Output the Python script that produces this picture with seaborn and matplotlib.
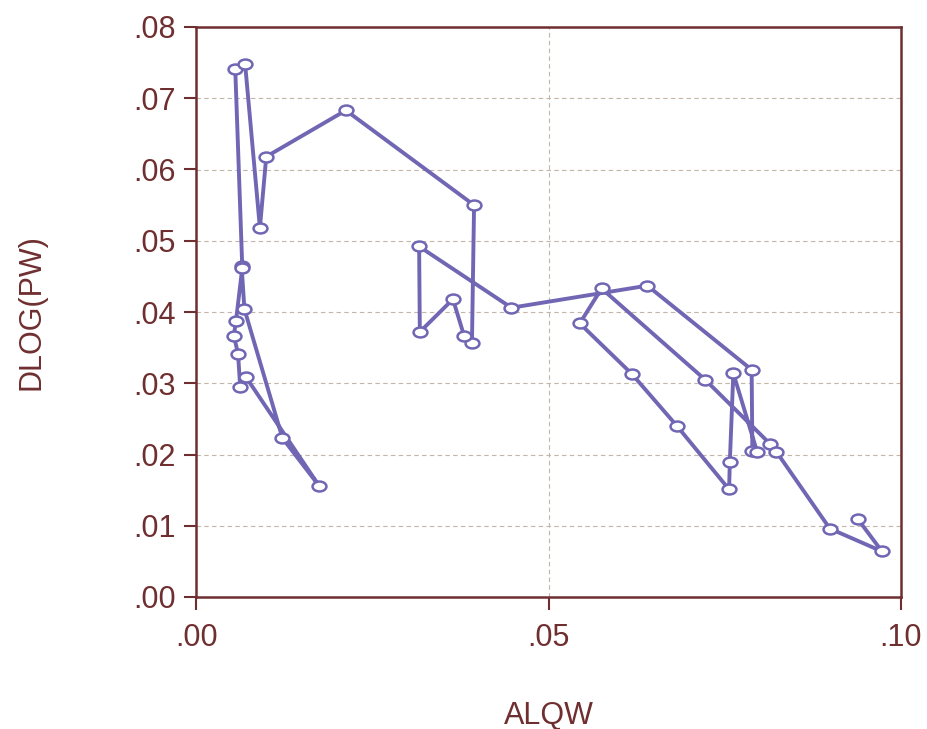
import matplotlib
matplotlib.use("Agg")
import matplotlib.pyplot as plt
import matplotlib.path as mpath
from matplotlib import font_manager
from matplotlib.ticker import FuncFormatter, MultipleLocator
import seaborn as sns
import pandas as pd

# ---------------------------------------------------------------------------
# Data (in path order)
# ---------------------------------------------------------------------------
alqw = [
    0.0064, 0.0068, 0.0122, 0.0174, 0.0070, 0.0062, 0.0059, 0.0053, 0.0056,
    0.0065, 0.0055, 0.0069, 0.0090, 0.0099, 0.0212, 0.0394, 0.0391, 0.0380,
    0.0364, 0.0317, 0.0316, 0.0447, 0.0640, 0.0788, 0.0789, 0.0796, 0.0762,
    0.0757, 0.0756, 0.0682, 0.0618, 0.0544, 0.0575, 0.0722, 0.0814, 0.0823,
    0.0899, 0.0973, 0.0939,
]
dlog_pw = [
    0.0465, 0.0404, 0.0223, 0.0156, 0.0309, 0.0295, 0.0341, 0.0367, 0.0387,
    0.0462, 0.0741, 0.0748, 0.0518, 0.0618, 0.0683, 0.0550, 0.0357, 0.0366,
    0.0418, 0.0372, 0.0492, 0.0406, 0.0437, 0.0319, 0.0205, 0.0203, 0.0314,
    0.0189, 0.0151, 0.0240, 0.0313, 0.0384, 0.0433, 0.0305, 0.0215, 0.0204,
    0.0096, 0.0064, 0.0109,
]

df = pd.DataFrame({"ALQW": alqw, "DLOG(PW)": dlog_pw})

LINE = "#7066b4"
MAROON = "#6f2f30"
GRID = "#c4b5a6"

sns.set_style("white")
plt.rcParams["font.family"] = ["Liberation Sans", "DejaVu Sans"]

# narrow face for the rotated label, if it is there
names = {f.name for f in font_manager.fontManager.ttflist}
narrow = "Liberation Sans Narrow" if "Liberation Sans Narrow" in names else "Liberation Sans"

fig = plt.figure(figsize=(9.28, 7.29), dpi=100)
ax = fig.add_axes([196.5 / 928, 132 / 729, 704.5 / 928, 570 / 729])

# slightly wide ellipse marker, like the original
circ = mpath.Path.unit_circle()
ell = mpath.Path(circ.vertices * [1.4, 1.0], circ.codes)

sns.lineplot(
    data=df, x="ALQW", y="DLOG(PW)", sort=False, estimator=None, ax=ax,
    color=LINE, linewidth=2.8, marker=ell, markersize=10,
    markerfacecolor="white", markeredgecolor=LINE, markeredgewidth=1.8,
)

ax.set_xlim(0, 0.10)
ax.set_ylim(0, 0.08)
ax.xaxis.set_major_locator(MultipleLocator(0.05))
ax.yaxis.set_major_locator(MultipleLocator(0.01))
fmt = FuncFormatter(lambda v, p: f"{v:.2f}".lstrip("0"))
ax.xaxis.set_major_formatter(fmt)
ax.yaxis.set_major_formatter(fmt)

# grid: horizontal at every .01, vertical only at .05
for yv in [0.01, 0.02, 0.03, 0.04, 0.05, 0.06, 0.07]:
    ax.axhline(yv, color=GRID, linestyle=(0, (4, 3)), linewidth=0.8, zorder=0)
ax.axvline(0.05, color=GRID, linestyle=(0, (4, 3)), linewidth=0.8, zorder=0)

for side in ["left", "right", "top", "bottom"]:
    ax.spines[side].set_visible(True)
    ax.spines[side].set_color(MAROON)
    ax.spines[side].set_linewidth(1.8)

ax.tick_params(axis="both", direction="out", length=9, width=1.5,
               color=MAROON, labelcolor=MAROON, labelsize=22)
ax.tick_params(axis="x", pad=10)
ax.tick_params(axis="y", pad=6)
ax.tick_params(left=True, bottom=True)

ax.set_xlabel("ALQW", color=MAROON, fontsize=22, labelpad=34)
ax.set_ylabel("DLOG(PW)", color=MAROON, fontsize=22, labelpad=62,
              family=[narrow, "DejaVu Sans"])

fig.savefig("out.png", dpi=100)
